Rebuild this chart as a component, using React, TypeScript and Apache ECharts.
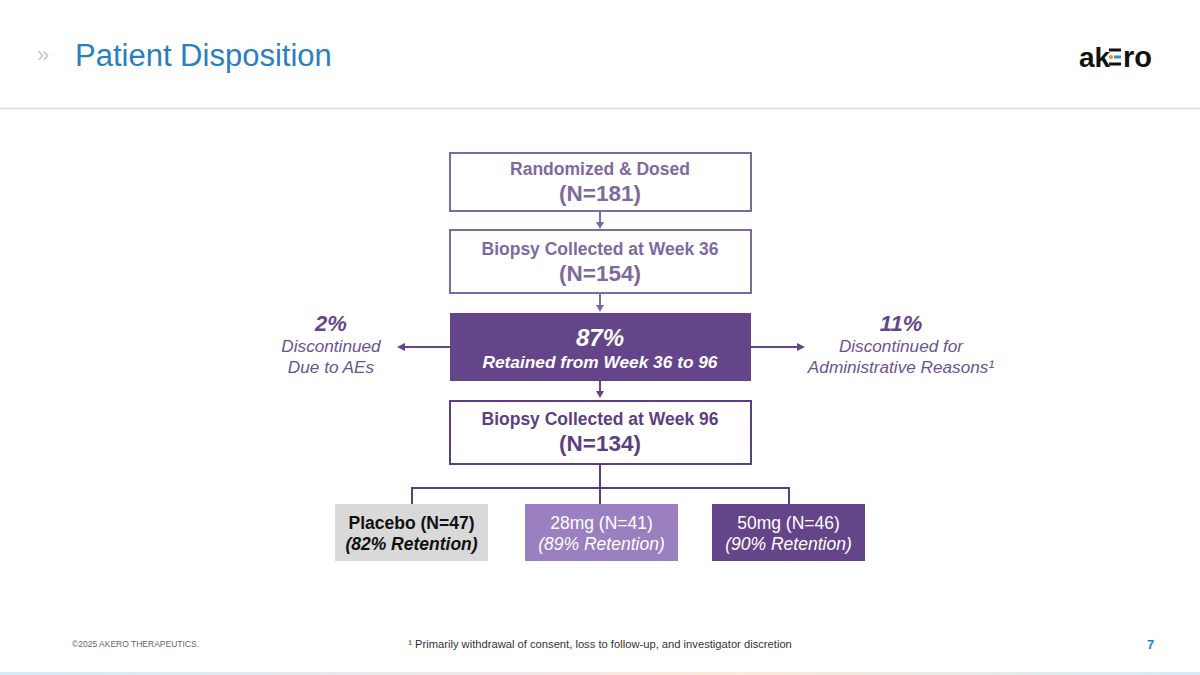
import React, { useEffect, useRef } from "react";
import * as echarts from "echarts";

// ---- Data ----
const title = "Patient Disposition";
const stageLabels = ["Randomized & Dosed", "Biopsy Collected at Week 36", "Biopsy Collected at Week 96"];
const stageCounts = [181, 154, 134];
const retainedPct = 87;
const retainedLabel = "Retained from Week 36 to 96";
const discontinuedAEPct = 2;
const discontinuedAELines = ["Discontinued", "Due to AEs"];
const discontinuedAdminPct = 11;
const discontinuedAdminLines = ["Discontinued for", "Administrative Reasons¹"];
const armNames = ["Placebo", "28mg", "50mg"];
const armCounts = [47, 41, 46];
const armRetention = [82, 89, 90];
const footnote = "¹ Primarily withdrawal of consent, loss to follow-up, and investigator discretion";
const copyright = "©2025 AKERO THERAPEUTICS.";
const pageNumber = "7";

const FONT = "'Liberation Sans', Arial, Helvetica, sans-serif";
const LIGHT_PURPLE = "#7f6aa0";
const DARK_PURPLE = "#5c3f82";
const FILL_PURPLE = "#654589";
const ARM_FILLS = ["#d9d9d9", "#9a80c0", "#654589"];
const ARM_TEXT = ["#111111", "#ffffff", "#ffffff"];

function txt(text: string, x: number, y: number, size: number, fill: string, opts: any = {}) {
  return {
    type: "text",
    silent: true,
    style: {
      text,
      x,
      y,
      fill,
      fontFamily: FONT,
      fontSize: size,
      fontWeight: opts.weight || "normal",
      fontStyle: opts.italic ? "italic" : "normal",
      align: opts.align || "center",
      verticalAlign: "middle",
    },
  };
}

function arrowDown(x: number, y1: number, y2: number, color: string) {
  return [
    { type: "line", silent: true, shape: { x1: x, y1, x2: x, y2: y2 - 5 }, style: { stroke: color, lineWidth: 2 } },
    { type: "polygon", silent: true, shape: { points: [[x - 4, y2 - 7], [x + 4, y2 - 7], [x, y2]] }, style: { fill: color } },
  ];
}

function arrowH(y: number, x1: number, x2: number, color: string) {
  const dir = x2 > x1 ? 1 : -1;
  return [
    { type: "line", silent: true, shape: { x1, y1: y, x2: x2 - dir * 5, y2: y }, style: { stroke: color, lineWidth: 2 } },
    { type: "polygon", silent: true, shape: { points: [[x2 - dir * 8, y - 4], [x2 - dir * 8, y + 4], [x2, y]] }, style: { fill: color } },
  ];
}

export default function App() {
  const ref = useRef<HTMLDivElement>(null);
  useEffect(() => {
    if (!ref.current) return;
    const chart = echarts.init(ref.current, null, { renderer: "svg" });
    const els: any[] = [];

    // header
    els.push(txt("»", 37, 54, 22, "#c8c8c8", { align: "left" }));
    els.push(txt(title, 75, 55, 31, "#2a7fc1", { align: "left" }));
    els.push({ type: "line", silent: true, shape: { x1: 0, y1: 108.5, x2: 1200, y2: 108.5 }, style: { stroke: "#d9d9d9", lineWidth: 1.5 } });

    // logo
    els.push(txt("ak", 1079, 57, 28, "#111111", { align: "left", weight: "bold" }));
    els.push({ type: "rect", silent: true, shape: { x: 1109, y: 48.5, width: 12, height: 3 }, style: { fill: "#111111" } });
    els.push({ type: "circle", silent: true, shape: { cx: 1111, cy: 57, r: 2 }, style: { fill: "#f08a2c" } });
    els.push({ type: "rect", silent: true, shape: { x: 1114, y: 55.5, width: 7, height: 3 }, style: { fill: "#2f8fd0" } });
    els.push({ type: "rect", silent: true, shape: { x: 1109, y: 62.5, width: 12, height: 3 }, style: { fill: "#111111" } });
    els.push(txt("ro", 1123, 57, 29, "#111111", { align: "left", weight: "bold" }));

    const cx = 600;
    const bx = 450, bw = 301;

    // box 1
    els.push({ type: "rect", silent: true, shape: { x: bx, y: 153, width: bw, height: 58 }, style: { fill: "#fff", stroke: LIGHT_PURPLE, lineWidth: 2 } });
    els.push(txt(stageLabels[0], cx, 169, 17.5, LIGHT_PURPLE, { weight: "bold" }));
    els.push(txt(`(N=${stageCounts[0]})`, cx, 193, 22.5, LIGHT_PURPLE, { weight: "bold" }));
    els.push(...arrowDown(cx, 211, 229, LIGHT_PURPLE));

    // box 2
    els.push({ type: "rect", silent: true, shape: { x: bx, y: 230, width: bw, height: 63 }, style: { fill: "#fff", stroke: LIGHT_PURPLE, lineWidth: 2 } });
    els.push(txt(stageLabels[1], cx, 249, 17.5, LIGHT_PURPLE, { weight: "bold" }));
    els.push(txt(`(N=${stageCounts[1]})`, cx, 273, 22.5, LIGHT_PURPLE, { weight: "bold" }));
    els.push(...arrowDown(cx, 293, 312, LIGHT_PURPLE));

    // box 3 retained
    els.push({ type: "rect", silent: true, shape: { x: bx, y: 313, width: bw, height: 68 }, style: { fill: FILL_PURPLE } });
    els.push(txt(`${retainedPct}%`, cx, 337, 24, "#ffffff", { weight: "bold", italic: true }));
    els.push(txt(retainedLabel, cx, 362, 17.3, "#ffffff", { weight: "bold", italic: true }));
    els.push(...arrowH(347, bx, 397, FILL_PURPLE));
    els.push(...arrowH(347, bx + bw, 805, FILL_PURPLE));
    els.push(...arrowDown(cx, 381, 398, FILL_PURPLE));

    // side texts
    els.push(txt(`${discontinuedAEPct}%`, 331, 323, 22, FILL_PURPLE, { weight: "bold", italic: true }));
    els.push(txt(discontinuedAELines[0], 331, 346, 17.2, "#6c5294", { italic: true }));
    els.push(txt(discontinuedAELines[1], 331, 367, 17.2, "#6c5294", { italic: true }));
    els.push(txt(`${discontinuedAdminPct}%`, 901, 323, 22, FILL_PURPLE, { weight: "bold", italic: true }));
    els.push(txt(discontinuedAdminLines[0], 901, 346, 17.2, "#6c5294", { italic: true }));
    els.push(txt(discontinuedAdminLines[1], 901, 367, 17.2, "#6c5294", { italic: true }));

    // box 4
    els.push({ type: "rect", silent: true, shape: { x: bx, y: 401, width: bw, height: 63 }, style: { fill: "#fff", stroke: DARK_PURPLE, lineWidth: 2 } });
    els.push(txt(stageLabels[2], cx, 419, 17.5, DARK_PURPLE, { weight: "bold" }));
    els.push(txt(`(N=${stageCounts[2]})`, cx, 443, 22.5, DARK_PURPLE, { weight: "bold" }));

    // connectors to arms
    const armCenters = [412, 600, 789];
    els.push({ type: "line", silent: true, shape: { x1: cx, y1: 464, x2: cx, y2: 488 }, style: { stroke: DARK_PURPLE, lineWidth: 2 } });
    els.push({ type: "line", silent: true, shape: { x1: armCenters[0], y1: 488, x2: armCenters[2], y2: 488 }, style: { stroke: DARK_PURPLE, lineWidth: 2 } });
    armCenters.forEach((ac) => {
      els.push({ type: "line", silent: true, shape: { x1: ac, y1: 487, x2: ac, y2: 504 }, style: { stroke: DARK_PURPLE, lineWidth: 2 } });
    });

    // arms
    const armX = [335, 525, 712];
    armNames.forEach((name, i) => {
      els.push({ type: "rect", silent: true, shape: { x: armX[i], y: 504, width: 153, height: 57 }, style: { fill: ARM_FILLS[i] } });
      const c = armX[i] + 76.5;
      els.push(txt(`${name} (N=${armCounts[i]})`, c, 523, 17.5, ARM_TEXT[i], { weight: i === 0 ? "bold" : "500" }));
      els.push(txt(`(${armRetention[i]}% Retention)`, c, 544, 17.5, ARM_TEXT[i], { weight: i === 0 ? "bold" : "500", italic: true }));
    });

    // footer
    els.push(txt(copyright, 72, 644, 8.5, "#666666", { align: "left" }));
    els.push(txt(footnote, 600, 644, 11.2, "#333333"));
    els.push(txt(pageNumber, 1147, 644, 13, "#2a7fc1", { align: "left", weight: "bold" }));
    els.push({
      type: "rect",
      silent: true,
      shape: { x: 0, y: 672, width: 1200, height: 3 },
      style: {
        fill: new echarts.graphic.LinearGradient(0, 0, 1, 0, [
          { offset: 0, color: "#d4ecf5" },
          { offset: 0.45, color: "#f3e8e8" },
          { offset: 0.6, color: "#fbead8" },
          { offset: 1, color: "#d6ecf6" },
        ]),
      },
    });

    chart.setOption({ animation: false, graphic: { elements: els } });
    return () => chart.dispose();
  }, []);
  return <div ref={ref} style={{ position: "fixed", left: 0, top: 0, width: 1200, height: 675, background: "#ffffff" }} />;
}
